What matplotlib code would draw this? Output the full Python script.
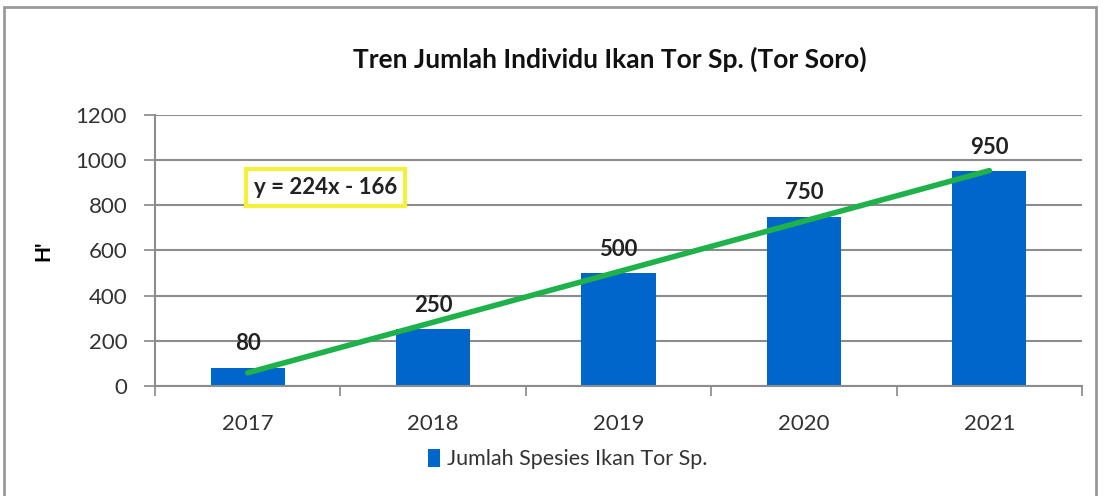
import matplotlib.pyplot as plt
import numpy as np
from matplotlib.patches import Rectangle

plt.rcParams['font.family'] = ['Lato', 'DejaVu Sans']

# Daten
jahre = ['2017', '2018', '2019', '2020', '2021']
jumlah = [80, 250, 500, 750, 950]

# lineare Trendlinie (Excel-Stil, x = 1..5)
xi = np.arange(1, len(jahre) + 1)
m, b = np.polyfit(xi, jumlah, 1)
trend = m * xi + b

fig = plt.figure(figsize=(11.03, 4.96), dpi=100)
ax = fig.add_axes([0.1405, 0.222, 0.8405, 0.546])

x = np.arange(len(jahre))
ax.bar(x, jumlah, width=0.4, color='#0066cc', label='Jumlah Spesies Ikan Tor Sp.', zorder=2)
ax.plot(x, trend, color='#1fb24a', linewidth=4, solid_capstyle='round', zorder=3)

for xx, v in zip(x, jumlah):
    ax.text(xx, v + 60, str(v), ha='center', va='bottom', fontsize=16, fontweight='bold', color='#222222')

ax.text(0.42, 880, 'y = %dx - %d' % (round(m), round(-b)), ha='center', va='center', fontsize=16,
        fontweight='bold', color='#222222',
        bbox=dict(boxstyle='square,pad=0.35', facecolor='white', edgecolor='#f5f03c', linewidth=3))

ax.set_xlim(-0.5, len(jahre) - 0.5)
ax.set_ylim(0, 1200)
ax.set_yticks(np.arange(0, 1201, 200))
ax.set_xticks(x)
ax.set_xticklabels(jahre)
ax.set_xticks(np.arange(-0.5, len(jahre), 1), minor=True)
ax.tick_params(axis='x', which='major', length=0, pad=20, labelsize=16, labelcolor='#333333')
ax.tick_params(axis='x', which='minor', length=7, width=1.2, color='#888888', direction='out')
ax.tick_params(axis='y', length=8, width=1.2, color='#888888', labelsize=16, labelcolor='#333333', pad=12)
ax.grid(axis='y', color='#8c8c8c', linewidth=1.5, zorder=0)
ax.set_axisbelow(True)
for s in ['top', 'right']:
    ax.spines[s].set_visible(False)
for s in ['left', 'bottom']:
    ax.spines[s].set_color('#8c8c8c')
    ax.spines[s].set_linewidth(1.5)

ax.set_ylabel("H'", fontsize=15, fontweight='bold', labelpad=16)
fig.suptitle('Tren Jumlah Individu Ikan Tor Sp. (Tor Soro)', x=0.553, y=0.905, fontsize=19, fontweight='bold',
             color='#111111')

ax.legend(loc='center', bbox_to_anchor=(0.445, -0.27), frameon=False, fontsize=15.5, handlelength=0.6,
          handleheight=0.9, handletextpad=0.3, labelcolor='#333333')

# Rahmen
fig.patches.append(Rectangle((0.004, -0.01), 0.99, 0.995, transform=fig.transFigure, fill=False,
                             edgecolor='#999999', linewidth=2))

plt.savefig('out.png', dpi=100)
